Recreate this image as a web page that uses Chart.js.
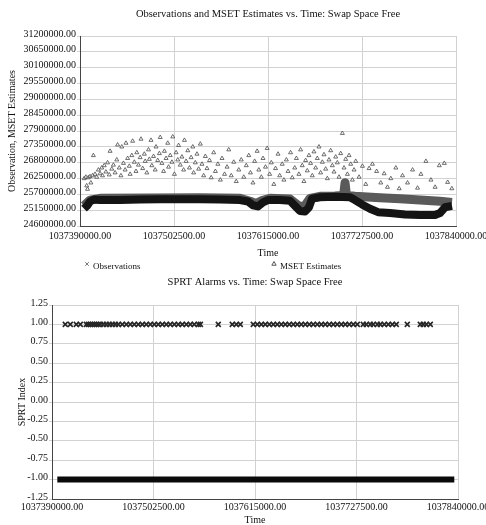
<!DOCTYPE html>
<html>
<head>
<meta charset="utf-8">
<script src="https://cdn.jsdelivr.net/npm/chart.js@4.4.1/dist/chart.umd.min.js"></script>
<style>
  html, body { margin: 0; padding: 0; background: #fff; overflow: hidden; }
  #top { position: absolute; left: 0; top: 0; width: 486px; height: 272px; }
  #bottom { position: absolute; left: 0; top: 272px; width: 486px; height: 253px; }
</style>
</head>
<body>
<div id="top"><canvas id="obsChart"></canvas></div>
<div id="bottom"><canvas id="sprtChart"></canvas></div>
<script>
// Axis ranges (time in seconds)
const TIME_MIN = 1037390000;
const TIME_MAX = 1037840000;
const TIME_STEP = 112500;
const SWAP_MIN = 24600000;
const SWAP_MAX = 31200000;
const SWAP_STEP = 550000;
const SPRT_MIN = -1.25;
const SPRT_MAX = 1.25;
const SPRT_STEP = 0.25;

// Observations (dense band)
const obsTimes = [
  1037394800, 1037398400, 1037402000, 1037406800, 1037413900, 1037437900, 1037461800,
  1037485700, 1037509700, 1037533600, 1037557600, 1037581500, 1037591100, 1037597000,
  1037603000, 1037609000, 1037615000, 1037629400, 1037641300, 1037647300, 1037653300,
  1037659300, 1037664100, 1037667700, 1037677200, 1037695200, 1037713100, 1037719100,
  1037727500, 1037737100, 1037746700, 1037761000, 1037779000, 1037796900, 1037814900,
  1037820800, 1037826800, 1037835200
];
const obsValues = [
  25200000, 25300000, 25450000, 25520000, 25500000, 25500000, 25520000,
  25530000, 25530000, 25530000, 25520000, 25500000, 25450000, 25320000,
  25280000, 25420000, 25500000, 25500000, 25480000, 25300000, 25120000,
  25100000, 25250000, 25550000, 25600000, 25620000, 25600000, 25500000,
  25350000, 25200000, 25080000, 25050000, 25000000, 24980000, 24980000,
  25050000, 25250000, 25300000
];

// MSET estimates that track the observations
const estBandTimes = [
  1037394800, 1037402000, 1037413900, 1037473800, 1037533600, 1037581500, 1037593500,
  1037600600, 1037607800, 1037617400, 1037641300, 1037650900, 1037658100, 1037665300,
  1037677200, 1037695200, 1037705500, 1037707200, 1037708900, 1037719100, 1037749000,
  1037773000, 1037796900, 1037820800, 1037835200
];
const estBandValues = [
  25300000, 25500000, 25560000, 25570000, 25580000, 25560000, 25460000,
  25380000, 25480000, 25560000, 25540000, 25320000, 25260000, 25560000,
  25630000, 25640000, 25660000, 26100000, 25660000, 25630000, 25580000,
  25550000, 25500000, 25460000, 25420000
];

// MSET estimates scattered above the band
const estTimes = [
  1037395000, 1037397000, 1037398000, 1037399000, 1037400000, 1037402000, 1037403000, 1037405000,
  1037406000, 1037408000, 1037410000, 1037412000, 1037414000, 1037416000, 1037417000, 1037419000,
  1037421000, 1037423000, 1037425000, 1037426000, 1037428000, 1037430000, 1037432000, 1037434000,
  1037435000, 1037437000, 1037439000, 1037440000, 1037442000, 1037444000, 1037445000, 1037447000,
  1037449000, 1037450000, 1037452000, 1037453000, 1037455000, 1037457000, 1037458000, 1037460000,
  1037462000, 1037463000, 1037465000, 1037467000, 1037468000, 1037470000, 1037472000, 1037473000,
  1037475000, 1037476000, 1037478000, 1037480000, 1037481000, 1037483000, 1037485000, 1037486000,
  1037488000, 1037490000, 1037491000, 1037493000, 1037495000, 1037496000, 1037498000, 1037500000,
  1037501000, 1037503000, 1037505000, 1037507000, 1037508000, 1037510000, 1037512000, 1037514000,
  1037515000, 1037517000, 1037519000, 1037521000, 1037523000, 1037525000, 1037526000, 1037528000,
  1037530000, 1037532000, 1037534000, 1037536000, 1037538000, 1037540000, 1037542000, 1037545000,
  1037547000, 1037550000, 1037552000, 1037555000, 1037558000, 1037560000, 1037563000, 1037566000,
  1037568000, 1037571000, 1037574000, 1037577000, 1037580000, 1037583000, 1037586000, 1037589000,
  1037592000, 1037594000, 1037597000, 1037599000, 1037602000, 1037604000, 1037607000, 1037609000,
  1037612000, 1037614000, 1037617000, 1037619000, 1037622000, 1037624000, 1037627000, 1037629000,
  1037632000, 1037634000, 1037637000, 1037639000, 1037642000, 1037644000, 1037647000, 1037649000,
  1037652000, 1037654000, 1037656000, 1037658000, 1037660000, 1037662000, 1037664000, 1037666000,
  1037668000, 1037670000, 1037672000, 1037674000, 1037676000, 1037678000, 1037680000, 1037682000,
  1037684000, 1037686000, 1037688000, 1037690000, 1037692000, 1037694000, 1037696000, 1037698000,
  1037700000, 1037702000, 1037704000, 1037706000, 1037708000, 1037710000, 1037712000, 1037714000,
  1037716000, 1037718000, 1037720000, 1037724000, 1037728000, 1037732000, 1037736000, 1037740000,
  1037745000, 1037750000, 1037754000, 1037758000, 1037762000, 1037768000, 1037772000, 1037776000,
  1037782000, 1037788000, 1037794000, 1037798000, 1037804000, 1037810000, 1037815000, 1037820000,
  1037826000, 1037830000, 1037835000
];
const estValues = [
  26250000, 26300000, 26000000, 25880000, 26280000, 26320000, 26100000, 26350000,
  27050000, 26400000, 26300000, 26550000, 26420000, 26620000, 26350000, 26700000,
  26480000, 26800000, 26380000, 27200000, 26580000, 26720000, 26450000, 26900000,
  27420000, 26620000, 26350000, 27350000, 26780000, 26550000, 27480000, 26950000,
  26680000, 26400000, 27050000, 27550000, 26820000, 26500000, 27150000, 26720000,
  26980000, 27620000, 26600000, 27100000, 26850000, 26450000, 27250000, 26920000,
  27580000, 26700000, 27020000, 26550000, 27350000, 26880000, 27120000, 27680000,
  26780000, 26500000, 27200000, 26950000, 27480000, 26650000, 27050000, 26820000,
  27700000, 26400000, 27150000, 26900000, 27400000, 26720000, 27000000, 26550000,
  27580000, 26850000, 27220000, 26620000, 26980000, 27350000, 26450000, 26800000,
  27100000, 26580000, 27450000, 26750000, 26350000, 27020000, 26600000, 26880000,
  26280000, 27150000, 26500000, 26750000, 26200000, 26950000, 26400000, 26650000,
  27250000, 26350000, 26820000, 26150000, 26550000, 26900000, 26300000, 26700000,
  27050000, 26450000, 26100000, 26850000, 27200000, 26550000, 26300000, 26950000,
  26650000, 27300000, 26400000, 26800000, 26050000, 26600000, 27100000, 26350000,
  26750000, 26200000, 26900000, 26500000, 27150000, 26280000, 26620000, 26950000,
  26400000, 27250000, 26700000, 26150000, 26880000, 26520000, 27050000, 26780000,
  26350000, 27180000, 26620000, 26950000, 27350000, 26450000, 26820000, 27080000,
  26580000, 26250000, 26900000, 27220000, 26700000, 26480000, 27000000, 26800000,
  26300000, 27120000, 27820000, 26620000, 26920000, 26400000, 27050000, 26750000,
  26200000, 26550000, 26850000, 26300000, 26680000, 26050000, 26600000, 26750000,
  26500000, 26100000, 26420000, 25950000, 26250000, 26620000, 25900000, 26350000,
  26100000, 26550000, 25920000, 26400000, 26850000, 26200000, 25950000, 26700000,
  26780000, 26120000, 25900000
];

// SPRT index: baseline and alarms
const sprtTimes = [
  1037395900, 1037450000, 1037500000, 1037550000, 1037600000,
  1037650000, 1037700000, 1037750000, 1037800000, 1037835900
];
const sprtValues = [-1, -1, -1, -1, -1, -1, -1, -1, -1, -1];

const alarmTimes = [
  1037404700, 1037410300, 1037416900, 1037421400, 1037428000, 1037430200, 1037432500, 1037434700,
  1037436900, 1037439100, 1037441300, 1037443500, 1037446900, 1037450200, 1037453500, 1037456800,
  1037460200, 1037463500, 1037467900, 1037472400, 1037476800, 1037481200, 1037485700, 1037490100,
  1037494500, 1037499000, 1037503400, 1037507800, 1037512300, 1037516700, 1037521100, 1037525600,
  1037530000, 1037534400, 1037538900, 1037543300, 1037547700, 1037552200, 1037554500, 1037574300,
  1037589800, 1037594300, 1037598700, 1037613100, 1037617600, 1037622000, 1037626400, 1037630900,
  1037635300, 1037639700, 1037644200, 1037648600, 1037653000, 1037657500, 1037661900, 1037666300,
  1037670800, 1037675200, 1037679600, 1037684100, 1037688500, 1037692900, 1037697400, 1037701800,
  1037706200, 1037710700, 1037715100, 1037719500, 1037724000, 1037728400, 1037735000, 1037738400,
  1037742800, 1037746100, 1037750600, 1037753900, 1037758300, 1037762800, 1037767200, 1037771600,
  1037783800, 1037798200, 1037801500, 1037804900, 1037809300
];
const alarmValues = [
  1, 1, 1, 1, 1, 1, 1, 1, 1, 1, 1, 1, 1, 1, 1, 1, 1,
  1, 1, 1, 1, 1, 1, 1, 1, 1, 1, 1, 1, 1, 1, 1, 1, 1,
  1, 1, 1, 1, 1, 1, 1, 1, 1, 1, 1, 1, 1, 1, 1, 1, 1,
  1, 1, 1, 1, 1, 1, 1, 1, 1, 1, 1, 1, 1, 1, 1, 1, 1,
  1, 1, 1, 1, 1, 1, 1, 1, 1, 1, 1, 1, 1, 1, 1, 1, 1
];

const SERIF = "'Liberation Serif', 'Times New Roman', serif";
const GRID_COLOR = '#d2d2d2';
const AXIS_COLOR = '#444';
const TEXT_COLOR = '#111';

function toPoints(xs, ys) {
  return xs.map((x, i) => ({ x: x, y: ys[i] }));
}

// title centred over the plot area rather than the canvas
const areaTitle = {
  id: 'areaTitle',
  afterDraw(chart, args, opts) {
    const { ctx, chartArea } = chart;
    ctx.save();
    ctx.font = opts.size + 'px ' + SERIF;
    ctx.fillStyle = TEXT_COLOR;
    ctx.textAlign = 'center';
    ctx.textBaseline = 'middle';
    ctx.fillText(opts.text, (chartArea.left + chartArea.right) / 2, opts.y);
    ctx.restore();
  }
};

// legend row under the top chart
const markerLegend = {
  id: 'markerLegend',
  afterDraw(chart, args, opts) {
    if (!opts.items) return;
    const { ctx } = chart;
    ctx.save();
    ctx.font = opts.size + 'px ' + SERIF;
    ctx.textBaseline = 'middle';
    ctx.textAlign = 'left';
    opts.items.forEach(item => {
      const ds = chart.data.datasets[item.dataset];
      ctx.strokeStyle = item.color;
      ctx.fillStyle = 'rgba(0,0,0,0)';
      ctx.lineWidth = 1;
      Chart.helpers.drawPoint(ctx, { pointStyle: ds.pointStyle, rotation: 0, radius: 2.5, borderWidth: 1 },
        item.x, item.y - 3);
      ctx.fillStyle = TEXT_COLOR;
      ctx.fillText(ds.label, item.x + 6, item.y);
    });
    ctx.restore();
  }
};

function timeAxis(height, labelPad, titlePad) {
  return {
    type: 'linear',
    min: TIME_MIN,
    max: TIME_MAX,
    ticks: {
      stepSize: TIME_STEP,
      callback: v => Number(v).toFixed(2),
      maxRotation: 0,
      minRotation: 0,
      autoSkip: false,
      padding: labelPad,
      color: TEXT_COLOR,
      font: { family: SERIF, size: 10 },
    },
    grid: { color: GRID_COLOR, drawTicks: false },
    border: { color: AXIS_COLOR },
    title: {
      display: true,
      text: 'Time',
      color: TEXT_COLOR,
      font: { family: SERIF, size: 10, lineHeight: 1 },
      padding: { top: 0, bottom: titlePad },
    },
    afterFit(scale) {
      scale.height = height;
      scale.paddingLeft = 0;
      scale.paddingRight = 0;
    },
  };
}

function valueAxis(min, max, step, width, title, titlePad) {
  return {
    min: min,
    max: max,
    ticks: {
      stepSize: step,
      callback: v => Number(v).toFixed(2),
      padding: 1,
      labelOffset: -2,
      color: TEXT_COLOR,
      font: { family: SERIF, size: 10 },
    },
    grid: { color: GRID_COLOR, drawTicks: true, tickLength: 3 },
    border: { color: AXIS_COLOR },
    title: {
      display: true,
      text: title,
      color: TEXT_COLOR,
      font: { family: SERIF, size: 10, lineHeight: 1.2 },
      padding: { top: titlePad, bottom: 0 },
    },
    afterFit(scale) {
      scale.width = width;
      scale.paddingTop = 0;
      scale.paddingBottom = 0;
    },
  };
}

const BASE = {
  responsive: true,
  maintainAspectRatio: false,
  animation: false,
  events: [],
};

new Chart(document.getElementById('obsChart'), {
  type: 'scatter',
  data: {
    datasets: [
      {
        label: 'MSET Estimates',
        data: toPoints(estTimes, estValues),
        pointStyle: 'triangle',
        pointRadius: 2.3,
        borderWidth: 0.8,
        borderColor: '#4a4a4a',
        backgroundColor: 'rgba(255,255,255,0.6)',
        order: 0,
      },
      {
        label: 'Observations',
        data: toPoints(obsTimes, obsValues),
        pointStyle: 'crossRot',
        showLine: true,
        borderColor: '#141414',
        borderWidth: 8,
        borderJoinStyle: 'round',
        pointRadius: 0,
        order: 1,
      },
      {
        label: 'MSET band',
        data: toPoints(estBandTimes, estBandValues),
        showLine: true,
        borderColor: '#5a5a5a',
        borderWidth: 9,
        borderJoinStyle: 'round',
        pointRadius: 0,
        order: 2,
      },
    ],
  },
  options: {
    ...BASE,
    layout: { padding: { left: 0, right: 30, top: 36, bottom: 12 } },
    scales: {
      x: timeAxis(34, 4, 2),
      y: valueAxis(SWAP_MIN, SWAP_MAX, SWAP_STEP, 80, 'Observation, MSET Estimates', 6),
    },
    plugins: {
      legend: { display: false },
      tooltip: { enabled: false },
      areaTitle: { text: 'Observations and MSET Estimates vs. Time: Swap Space Free', size: 10.5, y: 14 },
      markerLegend: {
        size: 9,
        items: [
          { dataset: 1, x: 87, y: 267, color: '#777' },
          { dataset: 0, x: 274, y: 267, color: '#555' },
        ],
      },
    },
  },
  plugins: [areaTitle, markerLegend],
});

new Chart(document.getElementById('sprtChart'), {
  type: 'scatter',
  data: {
    datasets: [
      {
        label: 'SPRT Alarms',
        data: toPoints(alarmTimes, alarmValues),
        pointStyle: 'crossRot',
        pointRadius: 3.5,
        borderWidth: 1.6,
        borderColor: '#262626',
        backgroundColor: '#262626',
        order: 0,
      },
      {
        label: 'SPRT Index',
        data: toPoints(sprtTimes, sprtValues),
        showLine: true,
        borderColor: '#0a0a0a',
        borderWidth: 6,
        pointRadius: 0,
        order: 1,
      },
    ],
  },
  options: {
    ...BASE,
    layout: { padding: { left: 0, right: 28, top: 33, bottom: 0 } },
    scales: {
      x: timeAxis(26, 2, 0),
      y: valueAxis(SPRT_MIN, SPRT_MAX, SPRT_STEP, 52, 'SPRT Index', 16),
    },
    plugins: {
      legend: { display: false },
      tooltip: { enabled: false },
      areaTitle: { text: 'SPRT Alarms vs. Time: Swap Space Free', size: 10.5, y: 10 },
    },
  },
  plugins: [areaTitle],
});
</script>
</body>
</html>
